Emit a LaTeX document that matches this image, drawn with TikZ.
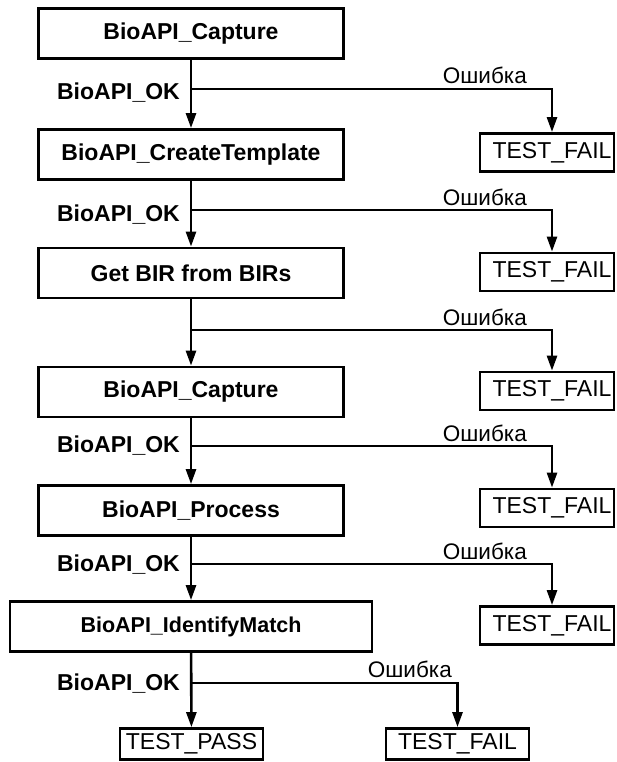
\documentclass[tikz,border=0pt]{standalone}
\usepackage{fontspec}
\setmainfont{Liberation Sans}
\usetikzlibrary{arrows.meta}
\begin{document}
\begin{tikzpicture}[x=1pt,y=-1pt,
  proc/.style={draw, line width=2.8pt, rectangle, inner sep=0pt,
    minimum width=305pt, minimum height=50pt,
    font=\fontsize{23}{26}\selectfont\bfseries},
  res/.style={draw, line width=2.8pt, rectangle, inner sep=0pt,
    minimum width=134pt, minimum height=38pt,
    font=\fontsize{23}{26}\selectfont},
  oklab/.style={inner sep=0pt, anchor=base east, font=\fontsize{23}{26}\selectfont\bfseries},
  errlab/.style={inner sep=0pt, anchor=base east, font=\fontsize{22.5}{26}\selectfont},
  arr/.style={line width=2.6pt, -{Triangle[length=15pt,width=10pt]}},
  ln/.style={line width=2.6pt}
]
\useasboundingbox (0,0) rectangle (616,762);

% main boxes
\node[proc] (b1) at (191,33.5) {BioAPI\_Capture};
\node[proc] (b2) at (191,154.5) {BioAPI\_CreateTemplate};
\node[proc] (b3) at (191,273) {Get BIR from BIRs};
\node[proc] (b4) at (191,392) {BioAPI\_Capture};
\node[proc] (b5) at (191,510.5) {BioAPI\_Process};
\node[proc, minimum width=362pt, font=\fontsize{21.5}{24}\selectfont\bfseries] (b6) at (191,626.5) {BioAPI\_IdentifyMatch};

% result boxes
\node[res] (f1) at (547,152.5) {\hspace*{10pt}TEST\_FAIL};
\node[res] (f2) at (547,272) {\hspace*{10pt}TEST\_FAIL};
\node[res] (f3) at (547,391) {\hspace*{10pt}TEST\_FAIL};
\node[res] (f4) at (547,508) {\hspace*{10pt}TEST\_FAIL};
\node[res] (f5) at (547,625.5) {\hspace*{10pt}TEST\_FAIL};
\node[res, minimum width=143pt, minimum height=31pt] (pass) at (191.5,744) {TEST\_PASS};
\node[res, minimum width=143pt, minimum height=31pt] (f6) at (457.5,744) {TEST\_FAIL};

% junctions
\coordinate (j1) at (191,89);
\coordinate (j2) at (191,210);
\coordinate (j3) at (191,330);
\coordinate (j4) at (191,446);
\coordinate (j5) at (191,564);
\coordinate (j6) at (191,683);

% main flow
\draw[arr] (b1) -- (b2);
\draw[arr] (b2) -- (b3);
\draw[arr] (b3) -- (b4);
\draw[arr] (b4) -- (b5);
\draw[arr] (b5) -- (b6);
\draw[arr] (b6) -- (pass);

% error branches
\draw[arr] (j1) -| ([xshift=5pt]f1.north);
\draw[arr] (j2) -| ([xshift=5pt]f2.north);
\draw[arr] (j3) -| ([xshift=5pt]f3.north);
\draw[arr] (j4) -| ([xshift=5pt]f4.north);
\draw[arr] (j5) -| ([xshift=5pt]f5.north);
\draw[arr] (j6) -| (f6.north);

% labels
\node[oklab] (ok1) at (180,100) {BioAPI\_OK};
\node[oklab] (ok2) at (180,221) {BioAPI\_OK};
\node[oklab] (ok4) at (180,452) {BioAPI\_OK};
\node[oklab] (ok5) at (180,571) {BioAPI\_OK};
\node[oklab] (ok6) at (180,690) {BioAPI\_OK};

\node[errlab] (e1) at (527,84) {Ошибка};
\node[errlab] (e2) at (527,205) {Ошибка};
\node[errlab] (e3) at (527,325) {Ошибка};
\node[errlab] (e4) at (527,441) {Ошибка};
\node[errlab] (e5) at (527,559) {Ошибка};
\node[errlab] (e6) at (452,677) {Ошибка};
\end{tikzpicture}
\end{document}
